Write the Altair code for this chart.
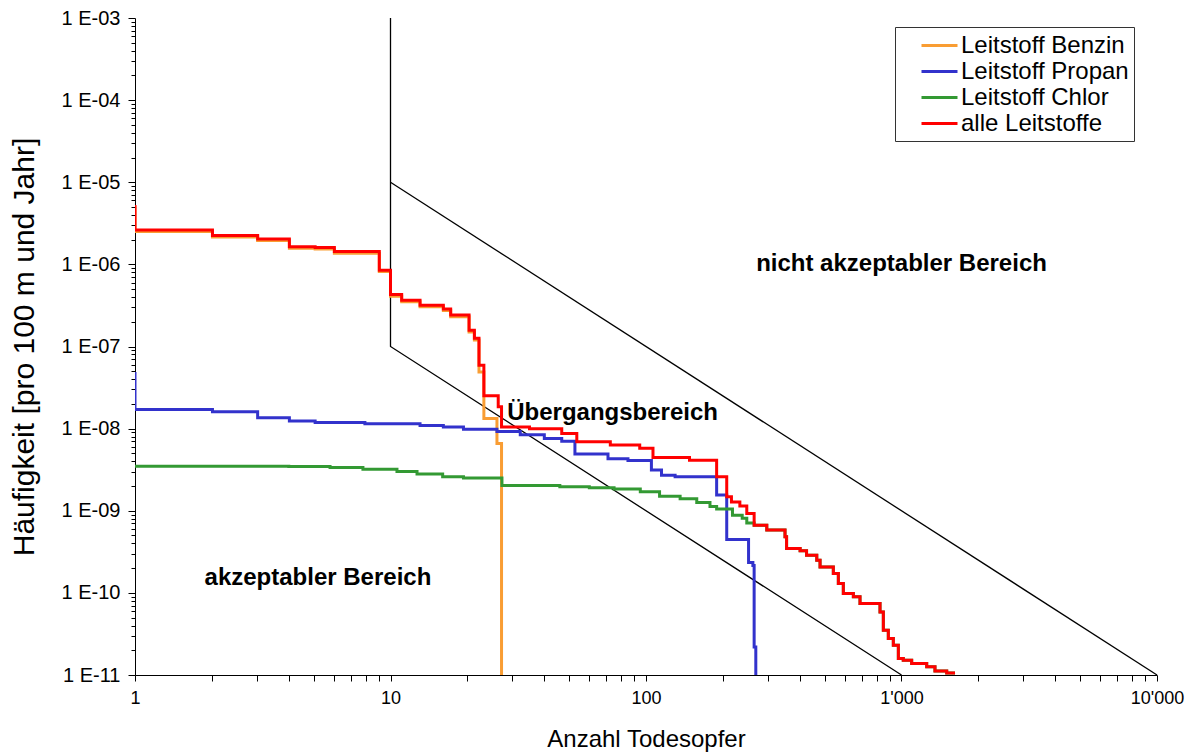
import altair as alt
import pandas as pd

# ---- data ----
series_names = ["Leitstoff Benzin", "Leitstoff Propan", "Leitstoff Chlor", "alle Leitstoffe"]
series_colors = ["#F99D33", "#3232CC", "#339933", "#FF0000"]

benzin_x = [1, 1, 2.01, 3.02, 4.02, 5.07, 6.03, 9.04, 10.0, 11.06, 13.05, 16.1, 17.2, 20.3, 21.3, 22.2, 23.2, 26.1, 27.2]
benzin_y = [5.1e-6, 2.52e-6, 2.16e-6, 1.95e-6, 1.57e-6, 1.54e-6, 1.37e-6, 8.2e-7, 4.1e-7, 3.5e-7, 3.05e-7, 2.75e-7,
            2.3e-7, 1.5e-7, 1.2e-7, 4.9e-8, 1.33e-8, 6.6e-9, 1e-11]

propan_x = [1, 1, 2.01, 3.02, 4.02, 5.07, 7.94, 13.05, 16.1, 19.3, 26.1, 32.2, 40, 46.8, 52.7, 71, 85, 105, 115, 130,
            189, 207, 252, 262, 265, 269]
propan_y = [4.9e-8, 1.71e-8, 1.6e-8, 1.36e-8, 1.24e-8, 1.19e-8, 1.15e-8, 1.09e-8, 1.05e-8, 9.8e-9, 9.2e-9, 8.4e-9,
            7.6e-9, 7.0e-9, 4.9e-9, 4.3e-9, 4.1e-9, 3.13e-9, 2.7e-9, 2.6e-9, 1.55e-9, 4.47e-10, 2.34e-10, 2.16e-10,
            2.2e-11, 1e-11]

chlor_x = [1, 4.0, 5.8, 7.8, 10.6, 12.7, 16, 19.3, 27.3, 46, 60, 75, 95, 113, 136, 158, 178, 189, 218, 238, 248, 265,
           297, 350, 355, 401, 425, 466, 480, 541, 566, 592, 648, 688, 824, 849, 888, 929, 972, 1016, 1096, 1255, 1352,
           1503, 1620]
chlor_y = [3.49e-9, 3.45e-9, 3.37e-9, 3.2e-9, 3.0e-9, 2.8e-9, 2.6e-9, 2.5e-9, 2.03e-9, 1.96e-9, 1.9e-9, 1.84e-9,
           1.7e-9, 1.5e-9, 1.4e-9, 1.26e-9, 1.13e-9, 1.05e-9, 8.8e-10, 8.1e-10, 7.1e-10, 6.68e-10,
           5.81e-10, 4.81e-10, 3.47e-10, 3.25e-10, 2.88e-10, 2.50e-10, 2.07e-10, 1.72e-10, 1.30e-10, 9.84e-11,
           8.94e-11, 7.43e-11, 5.87e-11, 3.51e-11, 2.79e-11, 2.31e-11, 1.59e-11, 1.51e-11, 1.38e-11, 1.26e-11,
           1.12e-11, 1.06e-11, 1.06e-11]

alle_x = [1, 1, 2.01, 3.02, 4.02, 5.07, 6.03, 9.04, 10.0, 11.06, 13.05, 16.1, 17.2, 20.3, 21.3, 22.2, 23.2, 26.4, 27.2,
          35, 46.8, 53.6, 72.5, 94.5, 106.5, 148, 189, 207, 216, 233, 248, 265, 297, 350, 355, 401, 425, 466, 480,
          541, 566, 592, 648, 688, 824, 849, 888, 929, 972, 1016, 1096, 1255, 1352, 1503, 1620]
alle_y = [5.3e-6, 2.62e-6, 2.25e-6, 2.03e-6, 1.64e-6, 1.6e-6, 1.43e-6, 8.5e-7, 4.3e-7, 3.67e-7, 3.19e-7, 2.86e-7,
          2.42e-7, 1.58e-7, 1.26e-7, 5.93e-8, 2.51e-8, 1.85e-8, 1.05e-8, 1.0e-8, 8.73e-9, 6.9e-9, 6.3e-9, 5.75e-9,
          4.46e-9, 4.13e-9, 2.59e-9, 1.48e-9, 1.28e-9, 1.14e-9, 9.27e-10, 6.68e-10, 5.81e-10, 4.81e-10, 3.47e-10,
          3.25e-10, 2.88e-10, 2.50e-10, 2.07e-10, 1.72e-10, 1.30e-10, 9.84e-11, 8.94e-11, 7.43e-11, 5.87e-11,
          3.51e-11, 2.79e-11, 2.31e-11, 1.59e-11, 1.51e-11, 1.38e-11, 1.26e-11, 1.12e-11, 1.06e-11, 1.06e-11]

# criteria lines (vertical at 10, lower and upper limit lines)
limit_x = [10, 10, 1000, 10, 10000]
limit_y = [1e-3, 1e-7, 1e-11, 1e-5, 1e-11]
limit_g = ["a", "a", "a", "b", "b"]

ann_text = ["nicht akzeptabler Bereich", "Übergangsbereich", "akzeptabler Bereich"]
ann_x = [1000, 74, 5.2]
ann_y = [1e-6, 1.55e-8, 1.5e-10]

x_ticks = [k * 10 ** d for d in range(4) for k in range(1, 10)] + [10000]
y_ticks = [k * 10.0 ** d for d in range(-11, -3) for k in range(1, 10)] + [1e-3]

# ---- build tables ----
def table(name, xs, ys):
    return pd.DataFrame({"x": xs, "y": ys, "s": name, "i": list(range(len(xs)))})

frames = {
    "Leitstoff Benzin": table("Leitstoff Benzin", benzin_x, benzin_y),
    "Leitstoff Propan": table("Leitstoff Propan", propan_x, propan_y),
    "Leitstoff Chlor": table("Leitstoff Chlor", chlor_x, chlor_y),
    "alle Leitstoffe": table("alle Leitstoffe", alle_x, alle_y),
}
limits = pd.DataFrame({"x": limit_x, "y": limit_y, "g": limit_g, "i": list(range(len(limit_x)))})
ann = pd.DataFrame({"t": ann_text, "x": ann_x, "y": ann_y})

FONT = "Liberation Sans"

is_decade = "abs(log(datum.value)/LN10 - round(log(datum.value)/LN10)) < 1e-6"
x_label = ("datum.value == 1000 ? \"1'000\" : datum.value == 10000 ? \"10'000\" : (" + is_decade +
           " ? format(datum.value, 'd') : '')")
y_label = ("(" + is_decade + ") ? '1 E-' + (round(-log(datum.value)/LN10) < 10 ? '0' : '') + "
           "round(-log(datum.value)/LN10) : ''")

x_enc = alt.X("x:Q",
              scale=alt.Scale(type="log", domain=[1, 10000], nice=False),
              axis=alt.Axis(values=x_ticks, labelExpr=x_label, labelOverlap=False, labelFlush=False,
                            tickSize=6, labelPadding=8, labelFontSize=18, titleFontSize=24,
                            titlePadding=20, title="Anzahl Todesopfer"))
y_enc = alt.Y("y:Q",
              scale=alt.Scale(type="log", domain=[1e-11, 1e-3], nice=False),
              axis=alt.Axis(values=y_ticks, labelExpr=y_label, labelOverlap=False, labelFlush=False,
                            tickSize={"condition": {"test": is_decade, "value": 7}, "value": 4},
                            labelPadding=8, labelFontSize=20, titleFontSize=30, titlePadding=22,
                            title="Häufigkeit [pro 100 m und Jahr]"))

color_enc = alt.Color("s:N",
                      scale=alt.Scale(domain=series_names, range=series_colors),
                      legend=alt.Legend(title=None, orient="none", legendX=760, legendY=9,
                                        direction="vertical", strokeColor="#333333", fillColor="white",
                                        padding=5, labelFontSize=24, labelFont=FONT, labelColor="black",
                                        labelLimit=400,
                                        symbolType="M-1.5,0H1.5", symbolStrokeWidth=3, symbolSize=576,
                                        symbolOffset=26, labelOffset=8, rowPadding=0))

limit_layer = alt.Chart(limits).mark_line(color="black", strokeWidth=1.3).encode(
    x=x_enc, y=y_enc, detail="g:N", order="i:Q")

series_layers = [
    alt.Chart(frames[n]).mark_line(interpolate="step-after", strokeWidth=3, clip=True).encode(
        x=x_enc, y=y_enc, color=color_enc, order="i:Q")
    for n in ["Leitstoff Benzin", "Leitstoff Propan", "Leitstoff Chlor", "alle Leitstoffe"]
]

text_layer = alt.Chart(ann).mark_text(font=FONT, fontSize=24, fontWeight="bold", color="black",
                                      baseline="middle", align="center").encode(
    x=x_enc, y=y_enc, text="t:N")

chart = alt.layer(limit_layer, *series_layers, text_layer).properties(
    width=1022, height=657,
    autosize=alt.AutoSizeParams(type="none"),
    padding={"left": 135, "top": 18, "right": 43, "bottom": 81},
).configure_view(stroke=None).configure_axis(
    grid=False, domainColor="black", tickColor="black", labelColor="black", titleColor="black",
    labelFont=FONT, titleFont=FONT, titleFontWeight="normal", domainWidth=1
)

chart.save("out.html", embed_options={"renderer": "svg", "actions": False})
